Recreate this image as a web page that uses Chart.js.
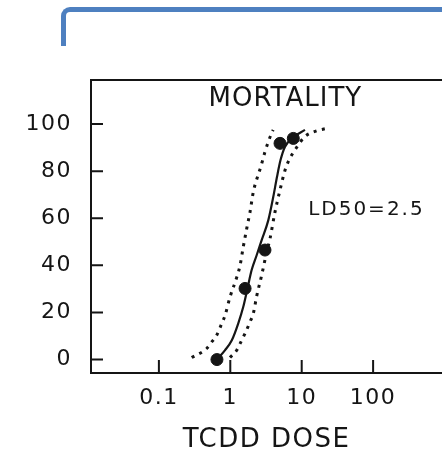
<!DOCTYPE html>
<html>
<head>
<meta charset="utf-8">
<script src="https://cdn.jsdelivr.net/npm/chart.js@4.4.1/dist/chart.umd.min.js"></script>
<style>
  html, body { margin: 0; padding: 0; background: #fff; overflow: hidden; }
  #wrap { position: relative; width: 442px; height: 451px; }
  #chart { position: absolute; left: 0; top: 0; }
  /* blue slide frame cut off at the top of the picture */
  #frame {
    position: absolute; left: 61px; top: 7px; width: 420px; height: 34px;
    border-left: 5px solid #4e80c0; border-top: 5px solid #4e80c0;
    border-top-left-radius: 9px;
  }
</style>
</head>
<body>
<div id="wrap">
  <canvas id="chart" width="442" height="451"></canvas>
  <div id="frame"></div>
</div>
<script>
// observed mortality (%) per TCDD dose
const doses = [0.65, 1.61, 3.06, 4.97, 7.63];
const mortality = [0, 30.2, 46.5, 91.8, 93.9];

// fitted dose-response curve
const fitDose = [0.65, 0.84, 1.05, 1.29, 1.52, 1.72, 1.99, 2.34, 2.75, 3.41, 4.0, 4.51, 5.05, 5.84, 7.55, 11.1];
const fitPct = [0, 3.9, 8.2, 15.3, 22.4, 29.5, 38.0, 44.3, 50.7, 59.2, 69.1, 77.6, 84.7, 90.4, 94.3, 97.5];

// dotted confidence bands
const leftBandDose = [0.288, 0.467, 0.549, 0.645, 0.758, 0.843, 0.99, 1.23, 1.37, 1.52, 1.70, 1.89, 2.10, 2.37, 2.69, 3.06, 3.41, 3.80, 3.98];
const leftBandPct = [0.85, 4.7, 7.5, 10.3, 15.3, 18.7, 26.5, 34.9, 40.0, 47.9, 55.7, 62.7, 71.2, 77.0, 82.1, 88.2, 92.5, 96.2, 97.5];
const rightBandDose = [0.99, 1.23, 1.37, 1.61, 1.89, 2.10, 2.34, 2.75, 3.16, 3.60, 4.23, 4.96, 5.84, 6.64, 8.05, 11.1, 15.4, 23.6];
const rightBandPct = [0.85, 3.95, 6.8, 11.1, 16.0, 19.6, 26.9, 35.8, 44.3, 51.4, 62.7, 71.9, 80.4, 84.7, 89.0, 94.7, 96.9, 98.3];

const xTicks = [0.1, 1, 10, 100];
const yTicks = [0, 20, 40, 60, 80, 100];

const chartTitle = 'MORTALITY';
const ldLabel = 'LD50=2.5';
const xTitle = 'TCDD DOSE';

const ink = '#151515';
const font = 'DejaVu Sans';

const pairs = (xs, ys) => xs.map((x, i) => ({ x: x, y: ys[i] }));

// box top line, inward tick marks, in-plot texts
const paperPlot = {
  id: 'paperPlot',
  beforeDraw(chart) {
    chart.ctx.letterSpacing = '1.5px';
  },
  afterDraw(chart) {
    const { ctx, chartArea, scales } = chart;
    const x = scales.x;
    const y = scales.y;
    ctx.save();
    ctx.strokeStyle = ink;
    ctx.lineWidth = 2;
    ctx.beginPath();
    ctx.moveTo(chartArea.left, chartArea.top);
    ctx.lineTo(chartArea.right, chartArea.top);
    y.ticks.forEach((t) => {
      const py = y.getPixelForValue(t.value);
      ctx.moveTo(chartArea.left, py);
      ctx.lineTo(chartArea.left + 12, py);
    });
    x.ticks.forEach((t) => {
      const px = x.getPixelForValue(t.value);
      ctx.moveTo(px, chartArea.bottom);
      ctx.lineTo(px, chartArea.bottom - 13);
    });
    ctx.stroke();

    ctx.fillStyle = ink;
    ctx.textBaseline = 'middle';
    ctx.textAlign = 'center';
    ctx.letterSpacing = '1px';
    ctx.font = '26px "' + font + '"';
    ctx.fillText(chartTitle, x.getPixelForValue(5.9), y.getPixelForValue(110.5));
    ctx.textAlign = 'left';
    ctx.letterSpacing = '2px';
    ctx.font = '20px "' + font + '"';
    ctx.fillText(ldLabel, x.getPixelForValue(12.3), y.getPixelForValue(63.7));
    ctx.restore();
  },
};

const bandStyle = {
  type: 'line',
  borderColor: ink,
  borderWidth: 3,
  borderDash: [3, 5.5],
  pointRadius: 0,
  cubicInterpolationMode: 'monotone',
  order: 2,
};

new Chart(document.getElementById('chart'), {
  type: 'scatter',
  data: {
    datasets: [
      {
        label: 'observed',
        data: pairs(doses, mortality),
        backgroundColor: ink,
        borderColor: ink,
        pointRadius: 6,
        order: 0,
      },
      {
        type: 'line',
        label: 'fit',
        data: pairs(fitDose, fitPct),
        borderColor: ink,
        borderWidth: 2.2,
        pointRadius: 0,
        cubicInterpolationMode: 'monotone',
        order: 1,
      },
      Object.assign({ label: 'left band', data: pairs(leftBandDose, leftBandPct) }, bandStyle),
      Object.assign({ label: 'right band', data: pairs(rightBandDose, rightBandPct) }, bandStyle),
    ],
  },
  options: {
    responsive: false,
    animation: false,
    devicePixelRatio: 1,
    layout: { autoPadding: false, padding: { top: 80, right: 0, left: 0, bottom: 0 } },
    plugins: {
      legend: { display: false },
      tooltip: { enabled: false },
    },
    scales: {
      x: {
        type: 'logarithmic',
        position: 'bottom',
        min: 0.0112,
        max: 922,
        afterBuildTicks: (scale) => {
          scale.ticks = xTicks.map((v) => ({ value: v }));
        },
        afterFit: (scale) => {
          scale.height = 78;
        },
        grid: { display: false, drawTicks: false },
        border: { display: true, color: ink, width: 2 },
        ticks: {
          autoSkip: false,
          maxRotation: 0,
          padding: 12,
          color: ink,
          font: { family: font, size: 22 },
          callback: (value) => String(value),
        },
        title: {
          display: true,
          text: xTitle,
          color: ink,
          font: { family: font, size: 26, lineHeight: 1 },
          padding: { top: 0, bottom: -2 },
        },
      },
      y: {
        min: -5.7,
        max: 118.7,
        afterBuildTicks: (scale) => {
          scale.ticks = yTicks.map((v) => ({ value: v }));
        },
        afterFit: (scale) => {
          scale.width = 91;
        },
        grid: { display: false, drawTicks: false },
        border: { display: true, color: ink, width: 2 },
        ticks: {
          padding: 19,
          color: ink,
          font: { family: font, size: 22 },
        },
      },
    },
  },
  plugins: [paperPlot],
});
</script>
</body>
</html>
